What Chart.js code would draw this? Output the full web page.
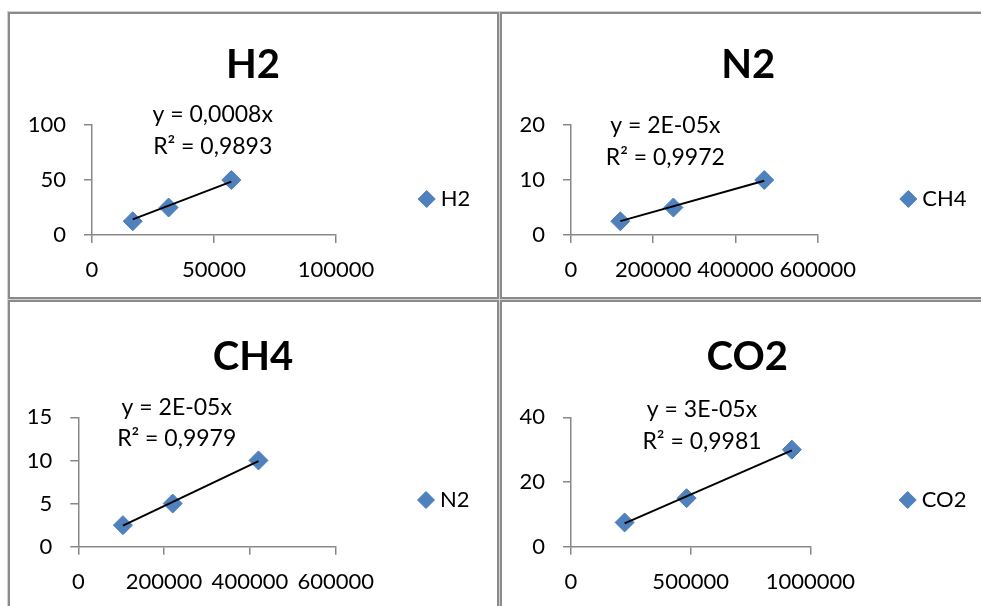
<!DOCTYPE html>
<html lang="pt-BR">
<head>
  <meta charset="UTF-8" />
  <title>Curvas de calibração</title>
  <script src="https://cdn.jsdelivr.net/npm/chart.js"></script>
  <style>
    body {
      margin: 0;
      background: #fff;
      width: 981px;
      height: 606px;
      overflow: hidden;
      position: relative;
      font-family: Lato, sans-serif;
    }

    .painel {
      position: absolute;
      box-sizing: border-box;
      border: 2px solid #8a8a8a;
      box-shadow: 0 0 0 1px #d2d2d2;
      background: #fff;
    }

    .painel canvas {
      position: absolute;
      left: 0;
      top: 0;
    }
  </style>
</head>

<body>
  <div class="painel" style="left:8px;top:12px;width:491px;height:287px"><canvas id="graf0" width="487" height="283"></canvas></div>
  <div class="painel" style="left:500px;top:12px;width:500px;height:287px"><canvas id="graf1" width="496" height="283"></canvas></div>
  <div class="painel" style="left:8px;top:300px;width:491px;height:320px"><canvas id="graf2" width="487" height="316"></canvas></div>
  <div class="painel" style="left:500px;top:300px;width:500px;height:320px"><canvas id="graf3" width="496" height="316"></canvas></div>

  <script>
    // dados das curvas (área do pico x concentração)
    const titulos = ['H2', 'N2', 'CH4', 'CO2'];
    const legendas = ['H2', 'CH4', 'N2', 'CO2'];

    const areaH2 = [16700, 31400, 57100];
    const concH2 = [12.5, 25, 50];
    const areaN2 = [120000, 249000, 470000];
    const concN2 = [2.5, 5, 10];
    const areaCH4 = [104000, 220000, 420000];
    const concCH4 = [2.5, 5, 10];
    const areaCO2 = [224000, 483000, 923000];
    const concCO2 = [7.5, 15, 30];

    const ticksX = [[0, 50000, 100000], [0, 200000, 400000, 600000], [0, 200000, 400000, 600000], [0, 500000, 1000000]];
    const ticksY = [[0, 50, 100], [0, 10, 20], [0, 5, 10, 15], [0, 20, 40]];

    const equacoes = ['y = 0,0008x', 'y = 2E-05x', 'y = 2E-05x', 'y = 3E-05x'];
    const r2 = ['R² = 0,9893', 'R² = 0,9972', 'R² = 0,9979', 'R² = 0,9981'];

    const seriesX = [areaH2, areaN2, areaCH4, areaCO2];
    const seriesY = [concH2, concN2, concCH4, concCO2];

    // posições dentro de cada canvas
    const layouts = [
      { area: [82, 111, 326, 221], titulo: [243, 51], eq: [202.7, 101, 132.7], leg: [416.7, 185] },
      { area: [69, 111, 315.7, 221], titulo: [246.3, 51], eq: [163.3, 112, 143.3], leg: [406.3, 185] },
      { area: [68.3, 115.3, 325.7, 244.7], titulo: [243, 54.7], eq: [166.7, 105.7, 136.3], leg: [416, 198] },
      { area: [69, 115.3, 308.3, 244.7], titulo: [245.3, 54.7], eq: [200, 107.3, 139.7], leg: [405.7, 198] }
    ];

    const AZUL = '#4f81bd';
    const BORDA_AZUL = '#4a7ebb';
    const CINZA = '#888888';
    const FONTE = 'Lato, sans-serif';

    Chart.defaults.font.family = FONTE;
    Chart.defaults.color = '#000';

    function losango(ctx, x, y, r) {
      ctx.beginPath();
      ctx.moveTo(x - r, y);
      ctx.lineTo(x, y - r);
      ctx.lineTo(x + r, y);
      ctx.lineTo(x, y + r);
      ctx.closePath();
      ctx.fillStyle = AZUL;
      ctx.fill();
      ctx.strokeStyle = BORDA_AZUL;
      ctx.lineWidth = 1;
      ctx.stroke();
    }

    // título, equação da linha de tendência e legenda no estilo do Excel
    const decoracao = {
      id: 'decoracao',
      afterDraw(chart, args, opts) {
        const ctx = chart.ctx;
        const lay = opts.layout;
        ctx.save();
        ctx.fillStyle = '#000';
        ctx.textAlign = 'center';
        ctx.textBaseline = 'middle';

        ctx.font = 'bold 40px ' + FONTE;
        ctx.fillText(opts.titulo, lay.titulo[0], lay.titulo[1]);

        ctx.font = '23px ' + FONTE;
        ctx.fillText(opts.equacao, lay.eq[0], lay.eq[1]);
        ctx.fillText(opts.r2, lay.eq[0], lay.eq[2]);

        ctx.font = '22px ' + FONTE;
        losango(ctx, lay.leg[0], lay.leg[1], 8.5);
        ctx.fillStyle = '#000';
        ctx.textAlign = 'left';
        ctx.fillText(opts.legenda, lay.leg[0] + 14, lay.leg[1]);
        ctx.restore();
      }
    };

    function eixo(valores, fit, pad) {
      return {
        type: 'linear',
        min: valores[0],
        max: valores[valores.length - 1],
        ticks: {
          stepSize: valores[1] - valores[0],
          autoSkip: false,
          maxRotation: 0,
          padding: pad,
          color: '#000',
          font: { size: 22 },
          callback: v => String(v)
        },
        grid: { drawOnChartArea: false, drawTicks: true, tickLength: 8, color: CINZA, lineWidth: 1.5 },
        border: { color: CINZA, width: 1.5 },
        afterFit: fit
      };
    }

    function criarGrafico(i) {
      const xs = seriesX[i];
      const ys = seriesY[i];
      const lay = layouts[i];
      const canvas = document.getElementById('graf' + i);
      const alturaEixoX = canvas.height - lay.area[3];

      // linha de tendência linear passando pela origem (mínimos quadrados)
      let sxy = 0, sxx = 0;
      xs.forEach((x, k) => { sxy += x * ys[k]; sxx += x * x; });
      const coef = sxy / sxx;
      const xMin = Math.min(...xs);
      const xMax = Math.max(...xs);

      new Chart(canvas, {
        type: 'scatter',
        data: {
          datasets: [
            {
              label: 'tendência',
              data: [{ x: xMin, y: coef * xMin }, { x: xMax, y: coef * xMax }],
              showLine: true,
              borderColor: '#000',
              borderWidth: 2,
              pointRadius: 0
            },
            {
              label: legendas[i],
              data: xs.map((x, k) => ({ x: x, y: ys[k] })),
              pointStyle: 'rectRot',
              pointRadius: 9.5,
              backgroundColor: AZUL,
              borderColor: BORDA_AZUL,
              borderWidth: 1,
              clip: false
            }
          ]
        },
        options: {
          responsive: false,
          animation: false,
          events: [],
          layout: {
            padding: {
              left: 0,
              top: lay.area[1],
              right: canvas.width - lay.area[2],
              bottom: 0
            }
          },
          plugins: {
            legend: { display: false },
            tooltip: { enabled: false },
            decoracao: {
              layout: lay,
              titulo: titulos[i],
              legenda: legendas[i],
              equacao: equacoes[i],
              r2: r2[i]
            }
          },
          scales: {
            x: eixo(ticksX[i], s => { s.height = alturaEixoX; }, 14),
            y: eixo(ticksY[i], s => { s.width = lay.area[0]; }, 18)
          }
        },
        plugins: [decoracao]
      });
    }

    for (let i = 0; i < 4; i++) criarGrafico(i);
  </script>
</body>

</html>
